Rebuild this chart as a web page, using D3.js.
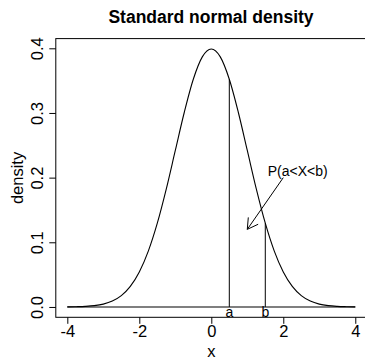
<!DOCTYPE html>
<html>
<head>
<meta charset="utf-8">
<script src="https://cdn.jsdelivr.net/npm/d3@7"></script>
<style>
  body { margin: 0; background: #fff; }
  svg { display: block; font-family: "Liberation Sans", Arial, sans-serif; }
</style>
</head>
<body>
<svg id="chart" width="365" height="360"></svg>
<script>
// density values, x from -4 to 4 in steps of 0.25
const xs = [-4, -3.75, -3.5, -3.25, -3, -2.75, -2.5, -2.25, -2, -1.75, -1.5, -1.25, -1, -0.75, -0.5, -0.25,
  0, 0.25, 0.5, 0.75, 1, 1.25, 1.5, 1.75, 2, 2.25, 2.5, 2.75, 3, 3.25, 3.5, 3.75, 4];
const dens = [0.0001, 0.0004, 0.0009, 0.002, 0.0044, 0.0091, 0.0175, 0.0317, 0.054, 0.0863, 0.1295, 0.1826,
  0.242, 0.3011, 0.3521, 0.3867, 0.3989, 0.3867, 0.3521, 0.3011, 0.242, 0.1826, 0.1295, 0.0863, 0.054,
  0.0317, 0.0175, 0.0091, 0.0044, 0.002, 0.0009, 0.0004, 0.0001];

const cutX = [0.5, 1.5];
const cutY = [0.3521, 0.1295];
const cutLabels = ["a", "b"];

const xTicks = [-4, -2, 0, 2, 4];
const yTicks = [0, 0.1, 0.2, 0.3, 0.4];

const arrowFrom = [2, 0.2];
const arrowTo = [1, 0.12];
const probLabel = { x: 2.4, y: 0.21, text: "P(a<X<b)" };

const svg = d3.select("#chart");

const x = d3.scaleLinear().domain([-4.32, 4.32]).range([55.8, 366.8]);
const y = d3.scaleLinear().domain([-0.016, 0.415]).range([317.3, 38.6]);

const axisFont = 16.5;

// plot box
svg.append("rect")
  .attr("x", x(-4.32)).attr("y", y(0.415))
  .attr("width", x(4.32) - x(-4.32)).attr("height", y(-0.016) - y(0.415))
  .attr("fill", "none").attr("stroke", "#000").attr("stroke-width", 1);

// x axis
const xAxis = d3.axisBottom(x).tickValues(xTicks).tickSize(6.5)
  .tickFormat(d => d);
const gx = svg.append("g")
  .attr("transform", `translate(0, ${y(-0.016)})`)
  .call(xAxis);
gx.select(".domain").remove();
gx.selectAll("text")
  .attr("font-size", axisFont).attr("font-family", "Liberation Sans, Arial, sans-serif").attr("fill", "#000")
  .attr("dy", null).attr("y", 19.4);

// y axis
const yAxis = d3.axisLeft(y).tickValues(yTicks).tickSize(6.5).tickFormat(d3.format(".1f"));
const gy = svg.append("g")
  .attr("transform", `translate(${x(-4.32)}, 0)`)
  .call(yAxis);
gy.select(".domain").remove();
gy.selectAll(".tick text")
  .attr("font-size", axisFont).attr("font-family", "Liberation Sans, Arial, sans-serif").attr("fill", "#000")
  .attr("x", null).attr("dy", null).attr("y", null)
  .attr("text-anchor", "middle")
  .attr("transform", "translate(-12.5, 0) rotate(-90)");

// horizontal zero line
svg.append("line")
  .attr("x1", x(-4)).attr("x2", x(4))
  .attr("y1", y(0)).attr("y2", y(0))
  .attr("stroke", "#555").attr("stroke-width", 1.6);

// density curve
const line = d3.line()
  .x((d, i) => x(xs[i]))
  .y(d => y(d))
  .curve(d3.curveMonotoneX);
svg.append("path")
  .datum(dens)
  .attr("d", line)
  .attr("fill", "none").attr("stroke", "#000").attr("stroke-width", 1.1);

// cut lines a and b
svg.selectAll(".cut")
  .data(cutX)
  .enter().append("line")
  .attr("class", "cut")
  .attr("x1", d => x(d)).attr("x2", d => x(d))
  .attr("y1", y(0)).attr("y2", (d, i) => y(cutY[i]))
  .attr("stroke", "#000").attr("stroke-width", 1);

svg.selectAll(".cutlab")
  .data(cutX)
  .enter().append("text")
  .attr("class", "cutlab")
  .attr("x", d => x(d)).attr("y", 316.5)
  .attr("text-anchor", "middle").attr("font-size", 14)
  .text((d, i) => cutLabels[i]);

// arrow
const x0 = x(arrowFrom[0]), y0 = y(arrowFrom[1]);
const x1 = x(arrowTo[0]), y1 = y(arrowTo[1]);
const ang = Math.atan2(y0 - y1, x0 - x1);
const headLen = 12, headAng = Math.PI / 6;
svg.append("path")
  .attr("d", `M${x0},${y0}L${x1},${y1}` +
    `M${x1 + headLen * Math.cos(ang + headAng)},${y1 + headLen * Math.sin(ang + headAng)}` +
    `L${x1},${y1}` +
    `L${x1 + headLen * Math.cos(ang - headAng)},${y1 + headLen * Math.sin(ang - headAng)}`)
  .attr("fill", "none").attr("stroke", "#000").attr("stroke-width", 1);

svg.append("text")
  .attr("x", x(probLabel.x)).attr("y", y(probLabel.y) + 5)
  .attr("text-anchor", "middle").attr("font-size", 14)
  .text(probLabel.text);

// titles
svg.append("text")
  .attr("x", 211).attr("y", 23)
  .attr("text-anchor", "middle").attr("font-size", 17.5).attr("font-weight", "bold")
  .text("Standard normal density");

svg.append("text")
  .attr("x", 211.3).attr("y", 357)
  .attr("text-anchor", "middle").attr("font-size", axisFont)
  .text("x");

svg.append("text")
  .attr("transform", `translate(23, ${(y(-0.016) + y(0.415)) / 2}) rotate(-90)`)
  .attr("text-anchor", "middle").attr("font-size", axisFont)
  .text("density");
</script>
</body>
</html>
